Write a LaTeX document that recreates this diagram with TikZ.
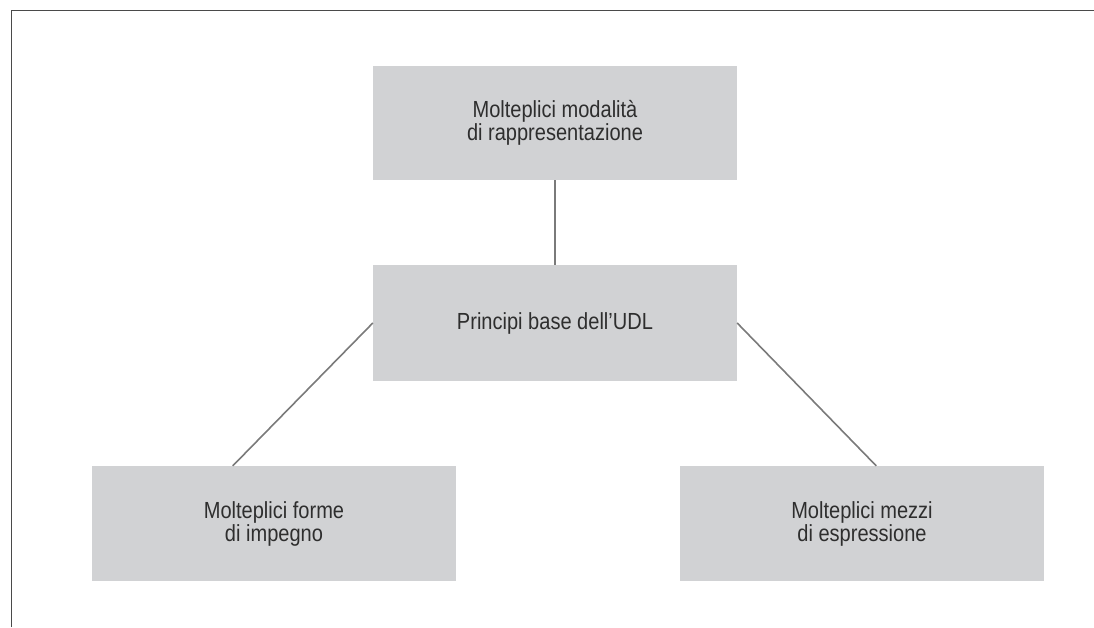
\documentclass[tikz,border=0pt]{standalone}
\usepackage{fontspec}
\setmainfont{Liberation Sans}[FakeStretch=0.86]
\definecolor{boxgray}{HTML}{D1D2D4}
\definecolor{linegray}{HTML}{7A7A7A}
\definecolor{framegray}{HTML}{4A4A4A}
\definecolor{textgray}{HTML}{2E2E2E}
\tikzset{
  udlbox/.style={rectangle, fill=boxgray, draw=none, inner sep=0pt,
    minimum width=364pt, minimum height=115pt, align=center,
    text=textgray, font=\fontsize{23.3pt}{23pt}\selectfont},
  conn/.style={draw=linegray, line width=1.6pt},
  frameline/.style={draw=framegray, line width=1.8pt}
}
\begin{document}
\begin{tikzpicture}[x=1pt,y=-1pt]
\useasboundingbox (0,0) rectangle (1094,627);
% frame
\coordinate (fbl) at (11.5,627);
\coordinate (ftl) at (11.5,10.5);
\coordinate (ftr) at (1094,10.5);
\draw[frameline] (fbl) -- (ftl) -- (ftr);
% boxes
\node[udlbox, minimum height=114pt] (top) at (555,123) {Molteplici modalità\\di rappresentazione};
\node[udlbox, minimum height=116pt] (mid) at (555,323) {Principi base dell’UDL};
\node[udlbox] (lb) at (274,523.5) {Molteplici forme\\di impegno};
\node[udlbox] (rb) at (862,523.5) {Molteplici mezzi\\di espressione};
% connector end points on the tops of the lower boxes
\coordinate (lbt) at ([xshift=141pt]lb.north west);
\coordinate (rbt) at ([xshift=-168pt]rb.north east);
\draw[conn] (top.south) -- (mid.north);
\draw[conn] (mid.west) -- (lbt);
\draw[conn] (mid.east) -- (rbt);
\end{tikzpicture}
\end{document}
